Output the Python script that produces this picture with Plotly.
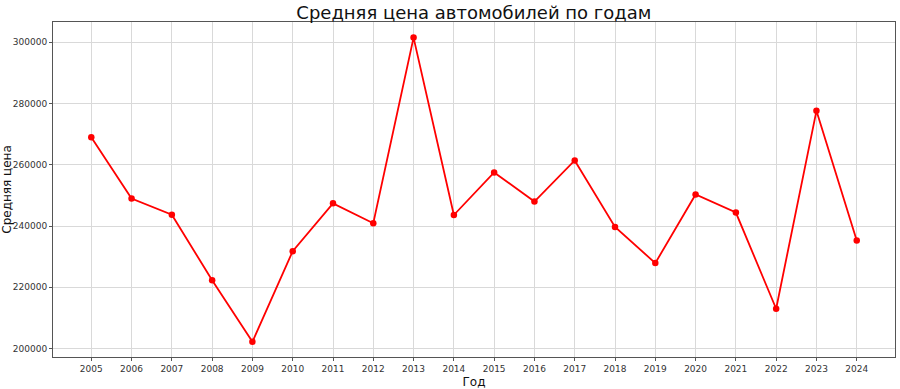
import plotly.graph_objects as go

years = list(range(2005, 2025))
avg_price = [269000, 249000, 243700, 222300, 202200, 231800, 247400, 240900, 301500, 243600,
             257500, 248000, 261400, 239700, 227900, 250300, 244400, 213000, 277600, 235300]
y_ticks = [200000, 220000, 240000, 260000, 280000, 300000]

fig = go.Figure()
fig.add_trace(go.Scatter(
    x=years, y=avg_price, mode="lines+markers",
    line=dict(color="#ff0000", width=1.8),
    marker=dict(color="#ff0000", size=6.5),
    showlegend=False,
))

font_family = "DejaVu Sans"
fig.update_layout(
    width=900, height=389,
    margin=dict(l=53, r=5, t=22, b=32),
    paper_bgcolor="white", plot_bgcolor="white",
    font=dict(family=font_family, color="#222"),
    title=dict(text="Средняя цена автомобилей по годам", x=0.5265, xanchor="center",
               y=0.968, yanchor="middle", font=dict(size=18, color="#111")),
)
fig.update_xaxes(
    range=[2004.05, 2024.95], tickmode="array", tickvals=years,
    ticktext=[str(y) for y in years],
    tickfont=dict(size=9, color="#333"),
    showgrid=True, gridcolor="#d9d9d9", gridwidth=1,
    showline=True, linecolor="#555", linewidth=1, mirror=True,
    ticks="outside", ticklen=3, tickcolor="#555",
    title=dict(text="Год", font=dict(size=12, color="#111"), standoff=5),
    zeroline=False, automargin=False,
)
fig.update_yaxes(
    range=[197250, 306600], tickmode="array", tickvals=y_ticks,
    ticktext=[str(v) for v in y_ticks],
    tickfont=dict(size=9, color="#333"),
    showgrid=True, gridcolor="#d9d9d9", gridwidth=1,
    showline=True, linecolor="#555", linewidth=1, mirror=True,
    ticks="outside", ticklen=3, tickcolor="#555",
    title=dict(text="Средняя цена", font=dict(size=12, color="#111"), standoff=6),
    zeroline=False, automargin=False,
)

fig.write_html("out.html")
